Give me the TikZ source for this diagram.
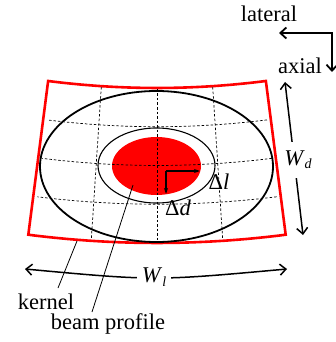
\documentclass[tikz,border=0pt]{standalone}
\usepackage{fontspec}
\setmainfont{Liberation Serif}
\usetikzlibrary{arrows.meta,calc}
\begin{document}
\begin{tikzpicture}[x=1pt,y=-1pt,
  lbl/.style={font=\fontsize{22.5}{26}\selectfont, inner sep=0pt},
  bigarrow/.style={line width=1.5pt, {Straight Barb[length=6pt,width=11pt]}-{Straight Barb[length=6pt,width=11pt]}},
  smallarrow/.style={line width=1.1pt, -{Stealth[length=6pt,width=4pt]}},
  grid/.style={dashed, line width=0.7pt, dash pattern=on 2.5pt off 2pt},
  pointer/.style={line width=0.8pt}]
\useasboundingbox (0,0) rectangle (336,342);
% kernel sector
\draw[red, line width=2.6pt, line join=miter]
  plot[domain=82.65:97.35, samples=40] ({157+851*cos(\x)}, {-763+851*sin(\x)})
  -- plot[domain=97.35:82.65, samples=40] ({157+1006*cos(\x)}, {-763+1006*sin(\x)}) -- cycle;
% beam profile fill
\fill[red] (156.5,166) ellipse [x radius=44.5, y radius=29];
% dashed grid
\foreach \r in {889.75,928.5,967.25}
  \draw[grid] plot[domain=82.9:97.1, samples=40] ({157+\r*cos(\x)}, {-763+\r*sin(\x)});
\foreach \a in {86.25,90,93.75}
  \draw[grid] ({157+852*cos(\a)}, {-763+852*sin(\a)}) -- ({157+1005*cos(\a)}, {-763+1005*sin(\a)});
% ellipses
\draw[line width=1.8pt] (156.5,166.5) ellipse [x radius=116.5, y radius=75.5];
\draw[line width=1.1pt] (156.5,165.5) ellipse [x radius=58.5, y radius=37.5];
% delta arrows
\coordinate (o) at (166,171);
\coordinate (ol) at (200,171);
\coordinate (od) at (166,194);
\draw[smallarrow] (o) -- (ol);
\draw[smallarrow] (o) -- (od);
\node[lbl] (dl) at (219,182) {Δ\textit{l}};
\node[lbl] (dd) at (178,208) {Δ\textit{d}};
% lateral / axial
\node[lbl] (lat) at (269,14) {lateral};
\node[lbl] (ax) at (300,66) {axial};
\coordinate (la) at (279,33);
\coordinate (corner) at (332,33);
\coordinate (aa) at (332,72);
\draw[bigarrow, line width=1.8pt] (la) -- (corner) -- (aa);
% W_d
\coordinate (wdt) at (285,82);
\coordinate (wdb) at (303,235);
\draw[bigarrow] (wdt) -- (wdb);
\node[lbl, fill=white, inner xsep=2pt, inner ysep=9pt] (wd) at (298,160) {\textit{W}\raisebox{-0.15em}{\fontsize{14}{14}\selectfont\textit{d}}};
% W_l
\coordinate (wll) at (25,269);
\coordinate (wlr) at (287,269);
\draw[bigarrow] (wll) .. controls (155,281) .. (wlr);
\node[lbl, fill=white, inner xsep=5pt, inner ysep=2pt] (wl) at (154,277) {\textit{W}\raisebox{-0.15em}{\fontsize{14}{14}\selectfont\textit{l}}};
% labels and pointers
\node[lbl] (kernel) at (46,302) {kernel};
\node[lbl] (beam) at (108,324) {beam profile};
\coordinate (k1) at (58,288);
\coordinate (k2) at (77,241);
\coordinate (b1) at (92,312);
\coordinate (b2) at (133,185);
\draw[pointer] (k1) -- (k2);
\draw[pointer] (b1) -- (b2);
\end{tikzpicture}
\end{document}
